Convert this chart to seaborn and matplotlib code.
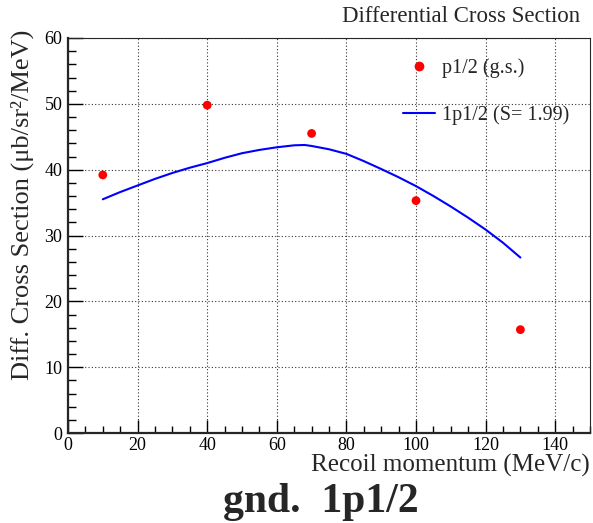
import numpy as np
import pandas as pd
import matplotlib
matplotlib.use("Agg")
import matplotlib.pyplot as plt
import seaborn as sns
from matplotlib.ticker import MultipleLocator
from matplotlib.lines import Line2D

# data
data_x = [10, 40, 70, 100, 130]
data_y = [39.2, 49.8, 45.5, 35.3, 15.7]
curve_x = [10, 15, 20, 25, 30, 35, 40, 45, 50, 55, 60, 65, 68, 70, 75, 80, 85, 90, 95,
           100, 105, 110, 115, 120, 125, 130]
curve_y = [35.5, 36.6, 37.6, 38.6, 39.5, 40.3, 41.0, 41.8, 42.5, 43.0, 43.4, 43.7, 43.75, 43.6,
           43.1, 42.4, 41.3, 40.1, 38.85, 37.5, 36.0, 34.4, 32.7, 30.9, 28.9, 26.65]
x_ticks = [0, 20, 40, 60, 80, 100, 120, 140]
y_ticks = [0, 10, 20, 30, 40, 50, 60]
series_labels = ["p1/2 (g.s.)", "1p1/2 (S= 1.99)"]

sns.set_style("ticks")
plt.rcParams['font.family'] = ['Liberation Serif', 'DejaVu Serif']

fig = plt.figure(figsize=(5.93, 5.23), dpi=100)
ax = fig.add_axes([68/593, 1-433/523, 522/593, 395/523])

pts = pd.DataFrame({"x": data_x, "y": data_y})
cur = pd.DataFrame({"x": curve_x, "y": curve_y})
sns.lineplot(data=cur, x="x", y="y", ax=ax, color="#0000ff", linewidth=1.5, zorder=3)
sns.scatterplot(data=pts, x="x", y="y", ax=ax, color="#ff0000", s=40, edgecolor="none", zorder=4)

ax.set_xlim(0, 150)
ax.set_ylim(0, 60)
ax.set_xticks(x_ticks)
ax.set_yticks(y_ticks)
ax.xaxis.set_minor_locator(MultipleLocator(5))
ax.yaxis.set_minor_locator(MultipleLocator(2))
ax.tick_params(axis='both', which='both', direction='in', labelsize=13, colors='black')
ax.tick_params(axis='x', which='major', length=9.5, width=1.0, pad=3)
ax.tick_params(axis='x', which='minor', length=4.7, width=1.0)
ax.tick_params(axis='y', which='major', length=10.5, width=1.0, pad=4)
ax.tick_params(axis='y', which='minor', length=5.5, width=1.0)
ax.grid(True, which='major', color='#333333', linestyle=(0, (1, 2)), linewidth=0.8)
ax.set_xlabel("")
ax.set_ylabel("")
for s in ['left', 'bottom']:
    ax.spines[s].set_linewidth(1.6)
for s in ['top', 'right']:
    ax.spines[s].set_linewidth(0.8)
    ax.spines[s].set_visible(True)

handles = [
    Line2D([], [], marker='o', color='#ff0000', linestyle='none', markersize=6),
    Line2D([], [], color='#0000ff', linewidth=1.5),
]
leg = ax.legend(handles, series_labels, loc='upper left', frameon=False, fontsize=14.5,
                bbox_to_anchor=(327/522, 0.97), labelspacing=1.35, handlelength=1.6,
                handletextpad=0.35, borderaxespad=0)

fig.text(580/593, 1-17/523, "Differential Cross Section", ha='right', va='center', fontsize=16.5)
fig.text(590/593, 1-465/523, "Recoil momentum (MeV/c)", ha='right', va='center', fontsize=18)
fig.text(22/593, 1-30/523, "Diff. Cross Section (\u03bcb/sr\u00b2/MeV)", rotation=90,
         ha='center', va='top', fontsize=19)
fig.text(321/593, 1-502/523, "gnd.  1p1/2", ha='center', va='center', fontsize=30, fontweight='bold')

fig.savefig("out.png", dpi=100)
